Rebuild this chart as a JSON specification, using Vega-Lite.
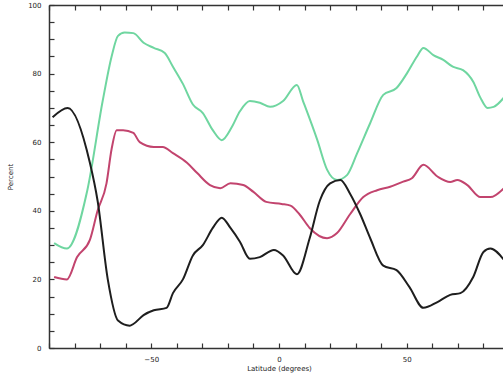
{
  "$schema": "https://vega.github.io/schema/vega-lite/v6.json",
  "width": 460,
  "height": 343,
  "autosize": {"type": "none"},
  "padding": {"left": 49, "top": 5, "right": 0, "bottom": 38},
  "background": "white",
  "config": {"view": {"stroke": null}, "axis": {"domainColor": "#333", "domainWidth": 1.5, "tickColor": "#333", "tickWidth": 1.2, "labelColor": "#222", "titleColor": "#222", "labelFont": "DejaVu Sans", "titleFont": "DejaVu Sans", "labelFontSize": 7, "titleFontSize": 7, "titleFontWeight": "normal", "grid": false}},
  "data": {"values": [
    {"s": "green", "lat": -88, "v": 30.6}, {"s": "green", "lat": -83, "v": 29}, {"s": "green", "lat": -75, "v": 46}, {"s": "green", "lat": -69, "v": 72}, {"s": "green", "lat": -65.5, "v": 85}, {"s": "green", "lat": -63, "v": 91}, {"s": "green", "lat": -60.4, "v": 92}, {"s": "green", "lat": -57, "v": 91.8}, {"s": "green", "lat": -53, "v": 89}, {"s": "green", "lat": -49, "v": 87.5}, {"s": "green", "lat": -44.7, "v": 86}, {"s": "green", "lat": -41.5, "v": 82}, {"s": "green", "lat": -37.6, "v": 77}, {"s": "green", "lat": -33.7, "v": 71}, {"s": "green", "lat": -29.8, "v": 68.5}, {"s": "green", "lat": -25.9, "v": 63.5}, {"s": "green", "lat": -22.4, "v": 60.6}, {"s": "green", "lat": -18.4, "v": 64.5}, {"s": "green", "lat": -15.3, "v": 69}, {"s": "green", "lat": -11.4, "v": 72}, {"s": "green", "lat": -7.5, "v": 71.5}, {"s": "green", "lat": -3.5, "v": 70.3}, {"s": "green", "lat": 1.6, "v": 72}, {"s": "green", "lat": 7, "v": 76.7}, {"s": "green", "lat": 9.4, "v": 72}, {"s": "green", "lat": 15, "v": 60.6}, {"s": "green", "lat": 18.8, "v": 52}, {"s": "green", "lat": 22.7, "v": 49}, {"s": "green", "lat": 26.6, "v": 50.4}, {"s": "green", "lat": 30.6, "v": 56.8}, {"s": "green", "lat": 35.7, "v": 65.6}, {"s": "green", "lat": 40.8, "v": 73.8}, {"s": "green", "lat": 46, "v": 75.8}, {"s": "green", "lat": 50, "v": 80}, {"s": "green", "lat": 54, "v": 85}, {"s": "green", "lat": 56.5, "v": 87.5}, {"s": "green", "lat": 60.4, "v": 85.4}, {"s": "green", "lat": 64.3, "v": 84}, {"s": "green", "lat": 68, "v": 82}, {"s": "green", "lat": 72, "v": 81}, {"s": "green", "lat": 76, "v": 77.6}, {"s": "green", "lat": 78.8, "v": 73}, {"s": "green", "lat": 81.6, "v": 70}, {"s": "green", "lat": 84, "v": 70.3}, {"s": "green", "lat": 88, "v": 73},
    {"s": "pink", "lat": -88, "v": 20.7}, {"s": "pink", "lat": -83, "v": 20}, {"s": "pink", "lat": -79, "v": 26.5}, {"s": "pink", "lat": -74, "v": 31.5}, {"s": "pink", "lat": -71, "v": 40}, {"s": "pink", "lat": -67.5, "v": 48}, {"s": "pink", "lat": -65.5, "v": 58}, {"s": "pink", "lat": -63.5, "v": 63.5}, {"s": "pink", "lat": -61, "v": 63.5}, {"s": "pink", "lat": -57, "v": 62.7}, {"s": "pink", "lat": -54.5, "v": 60}, {"s": "pink", "lat": -49, "v": 58.6}, {"s": "pink", "lat": -45.5, "v": 58.6}, {"s": "pink", "lat": -41.5, "v": 56.8}, {"s": "pink", "lat": -36, "v": 54}, {"s": "pink", "lat": -32, "v": 51}, {"s": "pink", "lat": -27, "v": 47.5}, {"s": "pink", "lat": -23, "v": 46.6}, {"s": "pink", "lat": -19, "v": 48}, {"s": "pink", "lat": -14, "v": 47.5}, {"s": "pink", "lat": -10, "v": 45.5}, {"s": "pink", "lat": -5, "v": 42.6}, {"s": "pink", "lat": 1, "v": 42}, {"s": "pink", "lat": 4.5, "v": 41.5}, {"s": "pink", "lat": 8, "v": 39}, {"s": "pink", "lat": 12, "v": 35}, {"s": "pink", "lat": 18.8, "v": 32}, {"s": "pink", "lat": 22.7, "v": 33.5}, {"s": "pink", "lat": 27.8, "v": 39}, {"s": "pink", "lat": 33, "v": 44}, {"s": "pink", "lat": 38.4, "v": 46}, {"s": "pink", "lat": 43.5, "v": 47}, {"s": "pink", "lat": 48.6, "v": 48.5}, {"s": "pink", "lat": 52, "v": 49.5}, {"s": "pink", "lat": 56.5, "v": 53.4}, {"s": "pink", "lat": 62, "v": 50}, {"s": "pink", "lat": 67, "v": 48.4}, {"s": "pink", "lat": 69.8, "v": 49}, {"s": "pink", "lat": 73.7, "v": 47.5}, {"s": "pink", "lat": 78.8, "v": 44}, {"s": "pink", "lat": 82.7, "v": 44}, {"s": "pink", "lat": 88, "v": 46.6},
    {"s": "black", "lat": -88.6, "v": 67.3}, {"s": "black", "lat": -82.7, "v": 70}, {"s": "black", "lat": -74, "v": 54}, {"s": "black", "lat": -71, "v": 43}, {"s": "black", "lat": -67, "v": 20}, {"s": "black", "lat": -63, "v": 8}, {"s": "black", "lat": -58.4, "v": 6.5}, {"s": "black", "lat": -57, "v": 7}, {"s": "black", "lat": -53, "v": 9.6}, {"s": "black", "lat": -49, "v": 11}, {"s": "black", "lat": -44, "v": 11.7}, {"s": "black", "lat": -41.5, "v": 16}, {"s": "black", "lat": -37.6, "v": 20}, {"s": "black", "lat": -33.7, "v": 27}, {"s": "black", "lat": -29.8, "v": 30}, {"s": "black", "lat": -25.9, "v": 35}, {"s": "black", "lat": -22.4, "v": 38}, {"s": "black", "lat": -19, "v": 35}, {"s": "black", "lat": -15.3, "v": 31}, {"s": "black", "lat": -11.4, "v": 26}, {"s": "black", "lat": -7.5, "v": 26.5}, {"s": "black", "lat": -2, "v": 28.6}, {"s": "black", "lat": 1.6, "v": 27}, {"s": "black", "lat": 7, "v": 21.5}, {"s": "black", "lat": 12, "v": 32}, {"s": "black", "lat": 16, "v": 43}, {"s": "black", "lat": 20, "v": 48}, {"s": "black", "lat": 24, "v": 49}, {"s": "black", "lat": 27.8, "v": 45}, {"s": "black", "lat": 31.8, "v": 39}, {"s": "black", "lat": 35.7, "v": 32}, {"s": "black", "lat": 40.8, "v": 24}, {"s": "black", "lat": 46, "v": 22.7}, {"s": "black", "lat": 51, "v": 17.8}, {"s": "black", "lat": 56.5, "v": 11.7}, {"s": "black", "lat": 62, "v": 13.4}, {"s": "black", "lat": 67, "v": 15.5}, {"s": "black", "lat": 71, "v": 16}, {"s": "black", "lat": 76, "v": 20.7}, {"s": "black", "lat": 80, "v": 28}, {"s": "black", "lat": 82.7, "v": 29}, {"s": "black", "lat": 88, "v": 25.7}
  ]},
  "layer": [
    {
      "mark": {"type": "line", "strokeWidth": 2, "clip": true, "interpolate": "monotone"},
      "encoding": {
        "x": {"field": "lat", "type": "quantitative", "scale": {"domain": [-90, 90], "nice": false, "zero": false}, "title": "Latitude (degrees)",
          "axis": {"orient": "bottom", "values": [-90, -80, -70, -60, -50, -40, -30, -20, -10, 0, 10, 20, 30, 40, 50, 60, 70, 80, 90], "labelExpr": "datum.value % 50 === 0 ? datum.label : ''", "tickSize": -5, "labelPadding": 12, "titlePadding": 2, "labelFlush": false}},
        "y": {"field": "v", "type": "quantitative", "scale": {"domain": [0, 100], "nice": false}, "title": "Percent",
          "axis": {"orient": "left", "values": [0, 5, 10, 15, 20, 25, 30, 35, 40, 45, 50, 55, 60, 65, 70, 75, 80, 85, 90, 95, 100], "labelExpr": "datum.value % 20 === 0 ? datum.label : ''", "tickSize": -5, "labelPadding": 13, "titlePadding": 14, "labelFlush": false}},
        "color": {"field": "s", "type": "nominal", "scale": {"domain": ["green", "pink", "black"], "range": ["#6fd6a0", "#c2446e", "#1e1e1e"]}, "legend": null},
        "detail": {"field": "s"}
      }
    },
    {
      "mark": {"type": "line", "strokeWidth": 2, "opacity": 0, "clip": true},
      "encoding": {
        "x": {"field": "lat", "type": "quantitative", "scale": {"domain": [-90, 90], "nice": false, "zero": false}, "title": null,
          "axis": {"orient": "top", "values": [-90, -80, -70, -60, -50, -40, -30, -20, -10, 0, 10, 20, 30, 40, 50, 60, 70, 80, 90], "labels": false, "tickSize": -5}},
        "y": {"field": "v", "type": "quantitative", "scale": {"domain": [0, 100], "nice": false}, "title": null,
          "axis": {"orient": "right", "values": [0, 5, 10, 15, 20, 25, 30, 35, 40, 45, 50, 55, 60, 65, 70, 75, 80, 85, 90, 95, 100], "labels": false, "tickSize": -5}},
        "detail": {"field": "s"}
      }
    }
  ],
  "resolve": {"axis": {"x": "independent", "y": "independent"}}
}
